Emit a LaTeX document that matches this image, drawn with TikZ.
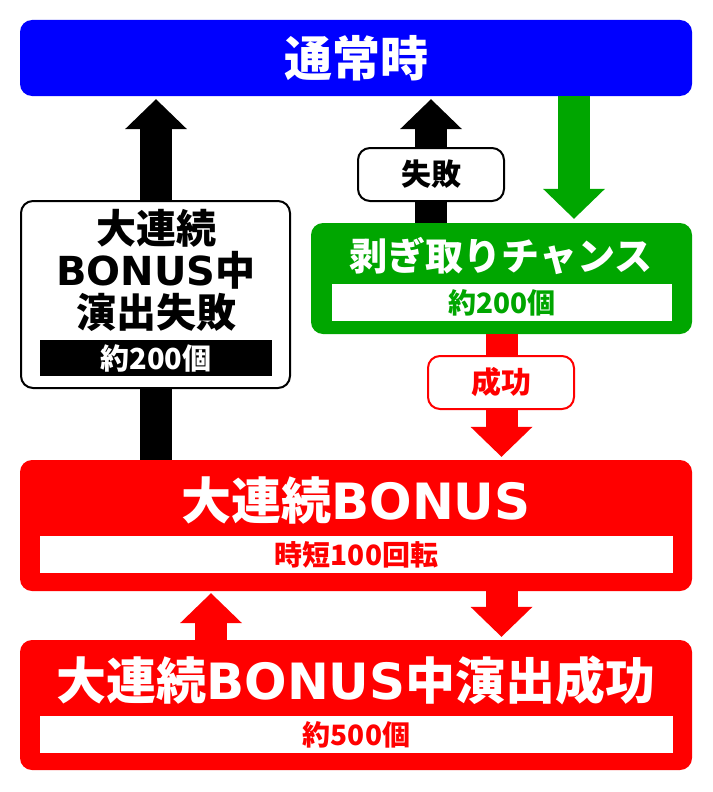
\documentclass[tikz,border=0pt]{standalone}
\usepackage{fontspec}
\setmainfont{Noto Sans CJK JP}
\newfontfamily\latin{DejaVu Sans}
\usetikzlibrary{arrows.meta}
\definecolor{tblue}{RGB}{0,0,255}
\definecolor{tgreen}{RGB}{0,166,0}
\definecolor{tred}{RGB}{255,0,0}
\newcommand{\fsz}[1]{\fontsize{#1}{#1}\selectfont}
\tikzset{
	bigbox/.style={rectangle,rounded corners=12pt,inner sep=0pt,minimum width=672pt},
	bar/.style={rectangle,fill=white,inner sep=0pt,minimum height=37pt,font=\bfseries\fsz{28}},
	tag/.style={rectangle,rounded corners=12pt,draw,line width=2pt,fill=white,inner sep=0pt,minimum width=146pt,minimum height=53pt,font=\bfseries\fsz{30}},
	title/.style={text=white,inner sep=0pt,font=\bfseries\fsz{#1}},
	blockarrow/.style={line width=32pt,-{Triangle[length=30pt,width=62pt,line width=0pt]}},
}

\begin{document}
\begin{tikzpicture}[x=1pt,y=-1pt]
	\useasboundingbox (0,0) rectangle (712,792);
	% state boxes
	\node[bigbox,fill=tblue,minimum height=76pt,title=48] (top) at (356,58) {通常時};
	\node[rectangle,rounded corners=12pt,fill=tgreen,minimum width=381pt,minimum height=111pt] (chance) at (501.5,278.5) {};
	\node[title=38] (chancetitle) at (501,256) {剥ぎ取りチャンス};
	\node[bar,minimum width=340pt,text=tgreen] (chancebar) at (502,302.5) {約200個};
	\node[bigbox,fill=tred,minimum height=131pt] (bonus) at (356,525.5) {};
	\node[title=50] (bonustitle) at (356,500) {大連続{\latin BONUS}};
	\node[bar,minimum width=633pt,text=tred] (bonusbar) at (356.5,554.5) {時短100回転};
	\node[bigbox,fill=tred,minimum height=130pt] (succ) at (356,705) {};
	\node[title=50] (succtitle) at (356,680) {大連続{\latin BONUS}中演出成功};
	\node[bar,minimum width=633pt,text=tred] (succbar) at (356.5,734.5) {約500個};
	% arrows
	\coordinate (lx) at (156,0);
	\coordinate (mx) at (431,0);
	\coordinate (gx) at (574,0);
	\coordinate (rx) at (501.5,0);
	\coordinate (ux) at (211,0);
	\draw[blockarrow,black,shorten >=3pt] (lx |- bonus.north) -- (lx |- top.south);
	\draw[blockarrow,black,shorten >=3pt] (mx |- chance.north) -- (mx |- top.south);
	\draw[blockarrow,tgreen,shorten >=4pt] (gx |- top.south) -- (gx |- chance.north);
	\draw[blockarrow,tred,shorten >=3pt] (rx |- chance.south) -- (rx |- bonus.north);
	\draw[blockarrow,tred,shorten >=3pt] (rx |- bonus.south) -- (rx |- succ.north);
	\draw[blockarrow,tred,shorten >=2pt] (ux |- succ.north) -- (ux |- bonus.south);
	% failure box and tags
	\node[rectangle,rounded corners=12pt,draw,line width=2pt,fill=white,minimum width=269pt,minimum height=187pt] (failbox) at (155.5,294.5) {};
	\node[align=center,inner sep=0pt,font=\bfseries\fontsize{40}{42}\selectfont] (failtitle) at (156,270) {大連続\\{\latin BONUS}中\\演出失敗};
	\node[rectangle,fill=black,text=white,inner sep=0pt,minimum width=232pt,minimum height=36pt,font=\bfseries\fsz{29}] (failbar) at (156,358) {約200個};
	\node[tag] (failtag) at (431,174.5) {失敗};
	\node[tag,draw=tred,text=tred] (oktag) at (501,382.5) {成功};
\end{tikzpicture}
\end{document}
